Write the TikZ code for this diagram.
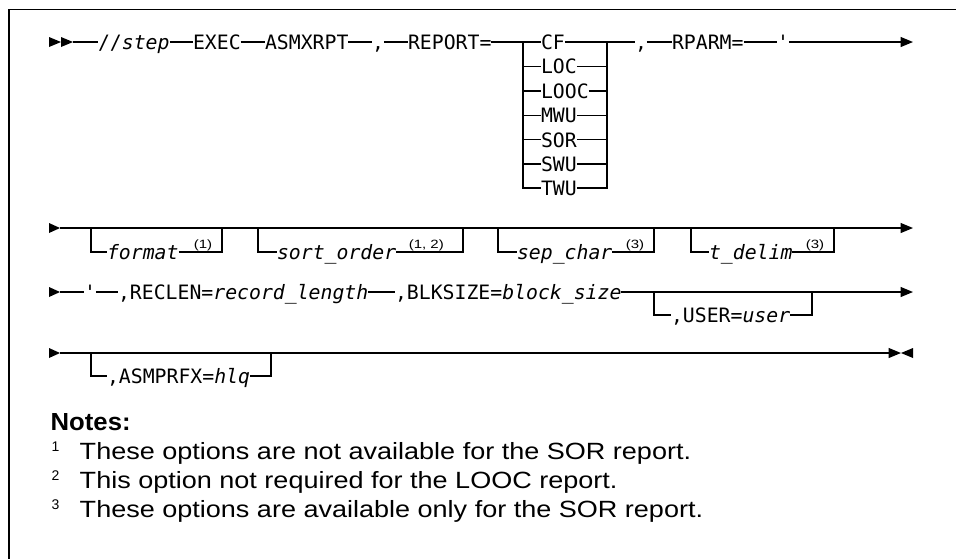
\documentclass[tikz,border=0pt]{standalone}
\usepackage{fontspec}
\setmainfont{Liberation Sans}
\newfontfamily\dmono{DejaVu Sans Mono}
\usetikzlibrary{arrows.meta}
\begin{document}
\begin{tikzpicture}[x=1pt,y=-1pt,line width=1.3pt,
  syn/.style={font=\dmono\fontsize{19.8}{24}\selectfont,inner sep=0pt,outer sep=0pt,
    text height=14.4pt,text depth=0pt,anchor=west},
  supnote/.style={font=\fontsize{12}{14}\selectfont,inner sep=0pt,anchor=south west,xscale=1.25},
  endarrow/.style={-{Triangle[length=12.5pt,width=10pt]}},
  notetext/.style={font=\fontsize{23.5}{28}\selectfont,inner sep=0pt,anchor=base west,xscale=1.15},
  notenum/.style={font=\fontsize{14}{16}\selectfont,inner sep=0pt,anchor=base west}]
\useasboundingbox (0,0) rectangle (956,558);
% frame
\draw (9,560) -- (9,9.5) -- (960,9.5);

% ---------- row 1 ----------
\fill (49,37) -- (61,42) -- (49,47) -- cycle;
\fill (61,37) -- (73,42) -- (61,47) -- cycle;
\coordinate (r1s) at (73,42);
\node[syn] (step) at (98,42) {//\textit{step}};
\node[syn] (exec) at (193,42) {EXEC};
\node[syn] (asm) at (265,42) {ASMXRPT};
\node[syn] (c1) at (372,42) {,};
\node[syn] (rep) at (408,42) {REPORT=};
\coordinate (L1) at (523,42);
\coordinate (R1) at (607,42);
\node[syn] (cf) at (541,42) {CF};
\node[syn] (loc) at (541,66.6) {LOC};
\node[syn] (looc) at (541,91) {LOOC};
\node[syn] (mwu) at (541,115.4) {MWU};
\node[syn] (sor) at (541,139.8) {SOR};
\node[syn] (swu) at (541,164) {SWU};
\node[syn] (twu) at (541,188) {TWU};
\node[syn] (c2) at (635,42) {,};
\node[syn] (rparm) at (672,42) {RPARM=};
\node[syn] (q1) at (777,42) {\char"27};
\coordinate (e1) at (913,42);
\draw (r1s) -- (step) -- (exec) -- (asm) -- (c1) -- (rep) -- (cf) -- (c2) -- (rparm) -- (q1);
\draw[endarrow] (q1) -- (e1);
\draw (L1) -- (L1 |- twu) -- (twu);
\draw (twu) -- (R1 |- twu) -- (R1);
\foreach \n in {loc,looc,mwu,sor,swu}{
  \draw (L1 |- \n) -- (\n);
  \draw (\n) -- (R1 |- \n);
}

% ---------- row 2 ----------
\fill (49,223) -- (60,228) -- (49,233) -- cycle;
\coordinate (r2s) at (60,228);
\coordinate (r2e) at (913,228);
\draw[endarrow] (r2s) -- (r2e);
% format
\coordinate (fL) at (91,228); \coordinate (fR) at (222,228);
\node[syn] (fmt) at (107,252) {\textit{format}};
\node[supnote] (fsup) at (193,252) {(1)};
\draw (fL) -- (fL |- fmt) -- (fmt);
\draw (fmt) -- (fR |- fmt) -- (fR);
% sort_order
\coordinate (sL) at (258,228); \coordinate (sR) at (463,228);
\node[syn] (sort) at (277,252) {\textit{sort\_order}};
\node[supnote] (ssup) at (408,252) {(1, 2)};
\draw (sL) -- (sL |- sort) -- (sort);
\draw (sort) -- (sR |- sort) -- (sR);
% sep_char
\coordinate (pL) at (498,228); \coordinate (pR) at (654,228);
\node[syn] (sep) at (517,252) {\textit{sep\_char}};
\node[supnote] (psup) at (625,252) {(3)};
\draw (pL) -- (pL |- sep) -- (sep);
\draw (sep) -- (pR |- sep) -- (pR);
% t_delim
\coordinate (tL) at (691,228); \coordinate (tR) at (834,228);
\node[syn] (tdel) at (709,252) {\textit{t\_delim}};
\node[supnote] (tsup) at (805,252) {(3)};
\draw (tL) -- (tL |- tdel) -- (tdel);
\draw (tdel) -- (tR |- tdel) -- (tR);

% ---------- row 3 ----------
\fill (49,287) -- (60,292) -- (49,297) -- cycle;
\coordinate (r3s) at (60,292);
\node[syn] (q2) at (84,292) {\char"27};
\node[syn] (rec) at (118,292) {,RECLEN=\textit{record\_length}};
\node[syn] (blk) at (395,292) {,BLKSIZE=\textit{block\_size}};
\coordinate (r3e) at (913,292);
\draw (r3s) -- (q2) -- (rec) -- (blk);
\draw[endarrow] (blk) -- (r3e);
\coordinate (uL) at (654,292); \coordinate (uR) at (812,292);
\node[syn] (usr) at (671,315) {,USER=\textit{user}};
\draw (uL) -- (uL |- usr) -- (usr);
\draw (usr) -- (uR |- usr) -- (uR);

% ---------- row 4 ----------
\fill (49,348) -- (60,353) -- (49,358) -- cycle;
\coordinate (r4s) at (60,353);
\coordinate (r4e) at (901,353);
\draw[endarrow] (r4s) -- (r4e);
\fill (913,348) -- (901,353) -- (913,358) -- cycle;
\coordinate (aL) at (91,353); \coordinate (aR) at (271,353);
\node[syn] (apf) at (107,376) {,ASMPRFX=\textit{hlq}};
\draw (aL) -- (aL |- apf) -- (apf);
\draw (apf) -- (aR |- apf) -- (aR);

% ---------- notes ----------
\node[font=\bfseries\fontsize{24.7}{28}\selectfont,inner sep=0pt,anchor=base west,xscale=1.04] (notes) at (50,430) {Notes:};
\node[notenum] (n1) at (51,451) {1};
\node[notetext] (t1) at (79,459) {These options are not available for the SOR report.};
\node[notenum] (n2) at (51,480) {2};
\node[notetext] (t2) at (79,488) {This option not required for the LOOC report.};
\node[notenum] (n3) at (51,509) {3};
\node[notetext] (t3) at (79,517) {These options are available only for the SOR report.};
\end{tikzpicture}
\end{document}
